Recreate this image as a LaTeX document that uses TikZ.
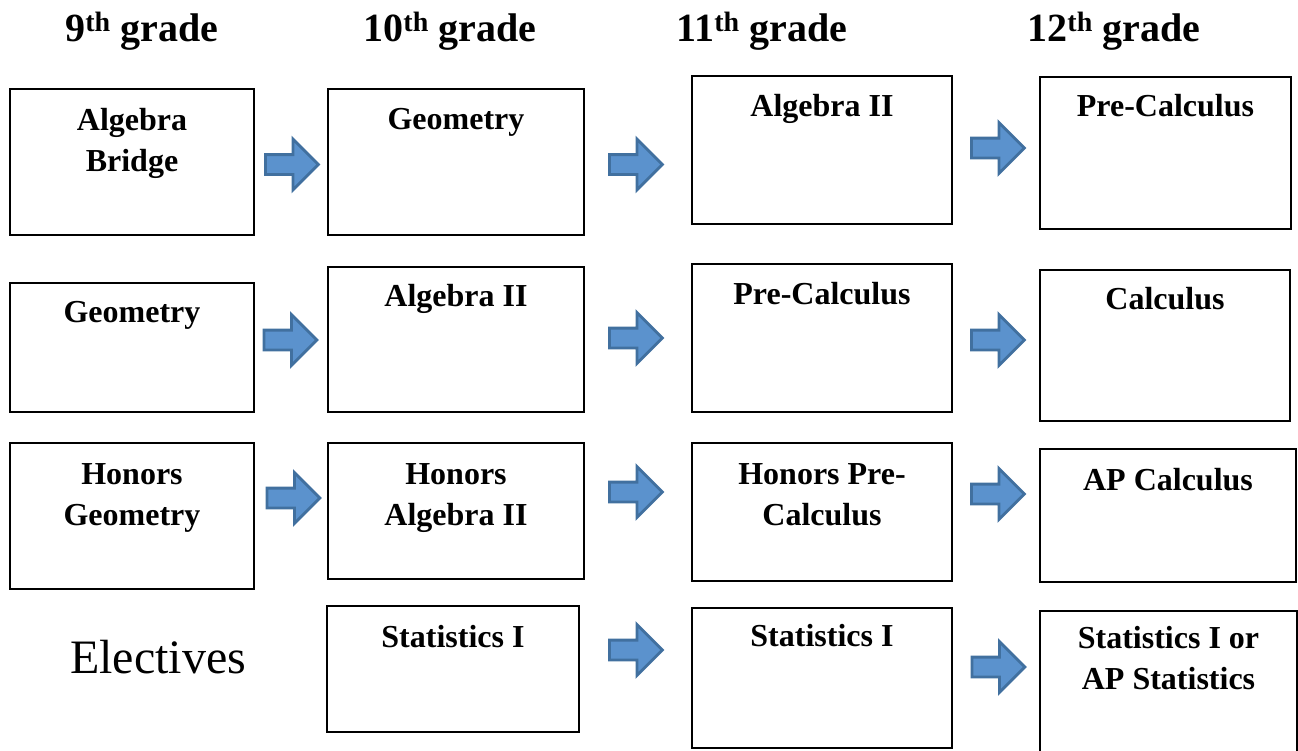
\documentclass[tikz,border=0pt]{standalone}
\usepackage{fontspec}
\setmainfont{Liberation Serif}
\usetikzlibrary{shapes.arrows,fit}

\definecolor{arrowfill}{RGB}{91,146,205}
\definecolor{arrowline}{RGB}{65,112,159}

\tikzset{
    box/.style={draw, line width=1.3pt, inner sep=0pt},
    course/.style={font=\bfseries\fontsize{32}{41}\selectfont, align=center, anchor=base, inner sep=0pt},
    grade/.style={font=\bfseries\fontsize{40}{48}\selectfont, anchor=base, inner sep=0pt},
    nextarrow/.style={single arrow, draw=arrowline, fill=arrowfill, line width=2.8pt,
        minimum height=53pt, inner sep=8.5pt, single arrow head extend=15.5pt, xshift=-4pt}
}

\begin{document}
\begin{tikzpicture}[x=1pt, y=-1pt]
        \useasboundingbox (0,0) rectangle (1298,750);

        % --- Intestazioni ---
        \node[grade] (h9)  at (142,41)  {9\textsuperscript{th} grade};
        \node[grade] (h10) at (450,41)  {10\textsuperscript{th} grade};
        \node[grade] (h11) at (762,41)  {11\textsuperscript{th} grade};
        \node[grade] (h12) at (1114,41) {12\textsuperscript{th} grade};

        % --- Riquadri (angolo alto-sinistra, angolo basso-destra) ---
        \node[box, fit={(10,89) (254,235)}]    (b11) {};
        \node[box, fit={(10,283) (254,412)}]   (b12) {};
        \node[box, fit={(10,443) (254,589)}]   (b13) {};

        \node[box, fit={(328,89) (584,235)}]   (b21) {};
        \node[box, fit={(328,267) (584,412)}]  (b22) {};
        \node[box, fit={(328,443) (584,579)}]  (b23) {};
        \node[box, fit={(327,606) (579,732)}]  (b24) {};

        \node[box, fit={(692,76) (952,224)}]   (b31) {};
        \node[box, fit={(692,264) (952,412)}]  (b32) {};
        \node[box, fit={(692,443) (952,581)}]  (b33) {};
        \node[box, line width=2.4pt, fit={(692,608) (952,748)}] (b34) {};

        \node[box, fit={(1040,77) (1291,229)}]  (b41) {};
        \node[box, fit={(1040,270) (1290,421)}] (b42) {};
        \node[box, fit={(1040,449) (1296,582)}] (b43) {};
        \node[box, fit={(1040,611) (1297,754)}] (b44) {};

        % --- Testi dei corsi (base = ultima riga) ---
        \node[course] (t11) at ([yshift=-83pt]b11.north) {Algebra\\Bridge};
        \node[course] (t12) at ([yshift=-40pt]b12.north) {Geometry};
        \node[course] (t13) at ([yshift=-83pt]b13.north) {Honors\\Geometry};

        \node[course] (t21) at ([yshift=-41pt]b21.north) {Geometry};
        \node[course] (t22) at ([yshift=-40pt]b22.north) {Algebra II};
        \node[course] (t23) at ([yshift=-83pt]b23.north) {Honors\\Algebra II};
        \node[course] (t24) at ([yshift=-42pt]b24.north) {Statistics I};

        \node[course] (t31) at ([yshift=-41pt]b31.north) {Algebra II};
        \node[course] (t32) at ([yshift=-41pt]b32.north) {Pre-Calculus};
        \node[course] (t33) at ([yshift=-83pt]b33.north) {Honors Pre-\\Calculus};
        \node[course] (t34) at ([yshift=-40pt]b34.north) {Statistics I};

        \node[course] (t41) at ([yshift=-40pt]b41.north) {Pre-Calculus};
        \node[course] (t42) at ([yshift=-40pt]b42.north) {Calculus};
        \node[course] (t43) at ([yshift=-42pt]b43.north) {AP Calculus};
        \node[course] (t44) at ([yshift=-79pt]b44.north) {Statistics I or\\AP Statistics};

        \node[anchor=base, inner sep=0pt, font=\fontsize{48}{58}\selectfont] (el) at (158,673) {Electives};

        % --- Frecce ---
        \node[nextarrow] (a12) at (291,164.5) {};
        \node[nextarrow] (a23) at (635,164.5) {};
        \node[nextarrow] (a34) at (997,148)   {};

        \node[nextarrow] (a22) at (289.5,340) {};
        \node[nextarrow] (a33) at (635,338)   {};
        \node[nextarrow] (a44) at (997,340)   {};

        \node[nextarrow] (a13) at (292.5,498) {};
        \node[nextarrow] (a24) at (635,492)   {};
        \node[nextarrow] (a35) at (997,494)   {};

        \node[nextarrow] (a25) at (635,650)   {};
        \node[nextarrow] (a36) at (997.5,667) {};

    \end{tikzpicture}
\end{document}
